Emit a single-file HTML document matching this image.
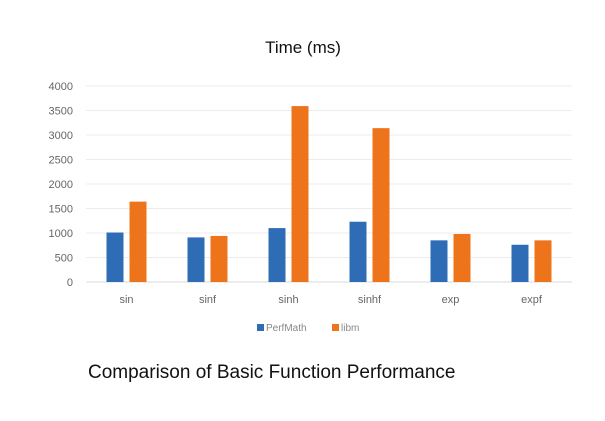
<!DOCTYPE html>
<html><head><meta charset="utf-8"><style>
body{margin:0;background:#fff;width:605px;height:416px;overflow:hidden;font-family:"Liberation Sans",sans-serif}
</style></head><body>
<svg width="605" height="416">
<text x="303" y="53" text-anchor="middle" font-size="17" fill="#111">Time (ms)</text>
<g id="grid"></g><g id="bars"></g>
<g>
<rect x="257" y="324" width="7" height="7" fill="#2e6db5"/>
<text x="266" y="331" font-size="10" fill="#888">PerfMath</text>
<rect x="332" y="324" width="7" height="7" fill="#ee741b"/>
<text x="341" y="331" font-size="10" fill="#888">libm</text>
</g>
<text x="88" y="378" font-size="19" fill="#111">Comparison of Basic Function Performance</text>
</svg>
<script>
const categories=["sin","sinf","sinh","sinhf","exp","expf"];
const perfmath=[1010,910,1100,1230,850,760];
const libm=[1640,940,3590,3140,980,850];
const ticks=[0,500,1000,1500,2000,2500,3000,3500,4000];
const NS="http://www.w3.org/2000/svg";
const x0=86,x1=572,yTop=86,yBot=282,max=4000;
const y=v=>yBot-(v/max)*(yBot-yTop);
const band=(x1-x0)/categories.length;
const cx=i=>x0+band*(i+0.5);
const g=document.getElementById('grid'),b=document.getElementById('bars');
function mk(tag,a,p){const e=document.createElementNS(NS,tag);for(const k in a)e.setAttribute(k,a[k]);p.appendChild(e);return e;}
ticks.forEach(t=>{
 const l=mk('line',{x1:x0,x2:x1,y1:y(t),y2:y(t),stroke:t===0?'#d9d9d9':'#ececec','stroke-width':1},g);
 
 
 const tx=mk('text',{x:73,y:y(t)+4,'text-anchor':'end','font-size':11,fill:'#666'},g);
 tx.textContent=t;
 
 
});
const bw=17,gap=6;
categories.forEach((c,i)=>{
 const r1=mk('rect',{x:cx(i)-gap/2-bw,y:y(perfmath[i]),width:bw,height:yBot-y(perfmath[i]),fill:'#2e6db5'},b);
 
 
 const r2=mk('rect',{x:cx(i)+gap/2,y:y(libm[i]),width:bw,height:yBot-y(libm[i]),fill:'#ee741b'},b);
 
 
 const t=mk('text',{x:cx(i),y:303,'text-anchor':'middle','font-size':11,fill:'#666'},b);
 t.textContent=c;
 
 
});
</script>
</body></html>
